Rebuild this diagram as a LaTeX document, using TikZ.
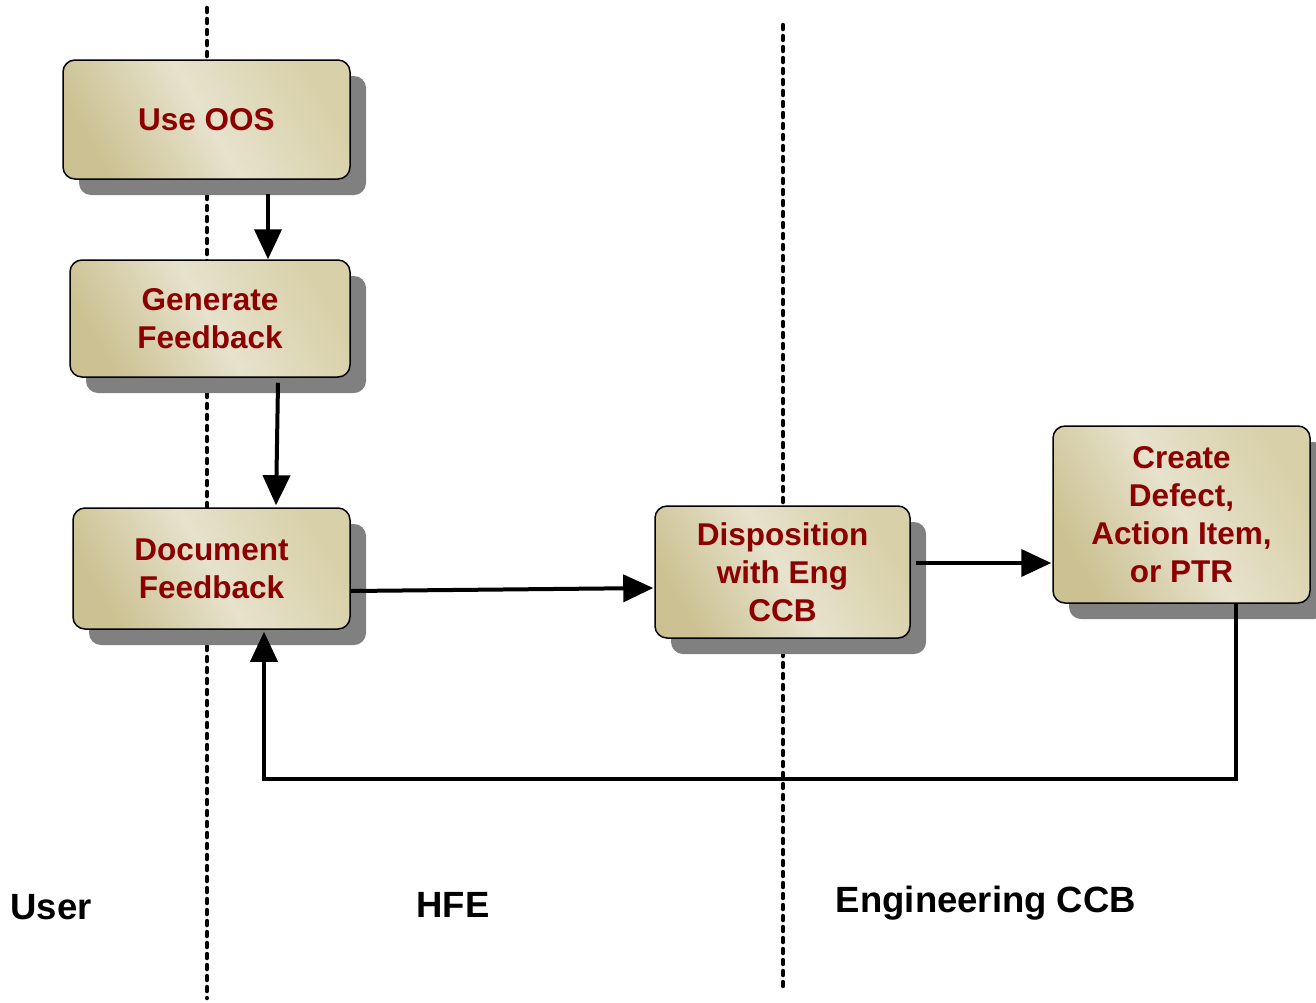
\documentclass[tikz,border=0pt]{standalone}
\usepackage{fontspec}
\setmainfont{Liberation Sans}
\usetikzlibrary{arrows.meta,shadows,calc}
\definecolor{boxred}{HTML}{8C0000}
\definecolor{tanDark}{HTML}{CCC192}
\definecolor{tanMid}{HTML}{E6E2CC}
\definecolor{tanLight}{HTML}{D8D0A8}
\definecolor{shadowgray}{HTML}{808080}
\tikzset{
  procbox/.style={draw=black, line width=1.5pt, rounded corners=12pt,
    left color=tanLight, right color=tanDark, middle color=tanMid, shading angle=-60,
    general shadow={fill=shadowgray, shadow xshift=16pt, shadow yshift=-16pt},
    align=center, text=boxred, font=\bfseries\fontsize{31.5}{38}\selectfont, inner sep=0pt},
  lane/.style={line width=4.5pt, dash pattern=on 4pt off 7pt, line cap=round},
  flow/.style={line width=4pt, -{Triangle[width=27pt,length=30pt]}},
  lanelabel/.style={font=\bfseries\fontsize{36.5}{43}\selectfont, inner sep=0pt}
}
\begin{document}
\begin{tikzpicture}[x=1pt,y=-1pt]
\useasboundingbox (0,0) rectangle (1316,1002);
% swimlane separators
\coordinate (l1t) at (207,8);
\coordinate (l1b) at (207,998);
\coordinate (l2t) at (783,25);
\coordinate (l2b) at (783,992);
\draw[lane] (l1t) -- (l1b);
\draw[lane] (l2t) -- (l2b);
% boxes
\node[procbox, minimum width=287pt, minimum height=119pt] (oos) at (206.5,119.5) {Use OOS};
\node[procbox, minimum width=280pt, minimum height=117pt] (gen) at (210,318.5) {Generate\\Feedback};
\node[procbox, minimum width=277pt, minimum height=121pt] (doc) at (211.5,568.5) {Document\\Feedback};
\node[procbox, minimum width=255pt, minimum height=132pt] (disp) at (782.5,572) {Disposition\\with Eng\\CCB};
\node[procbox, minimum width=257pt, minimum height=177pt] (create) at (1181.5,514.5) {Create\\Defect,\\Action Item,\\or PTR};
% connectors
\draw[flow] ([xshift=61.5pt,yshift=-14pt]oos.south) -- ([xshift=58pt]gen.north);
\draw[flow] ([xshift=68pt,yshift=-5pt]gen.south) -- ([xshift=64.5pt,yshift=2pt]doc.north);
\draw[flow] ([yshift=-22.5pt]doc.east) -- ([yshift=-16pt,xshift=-1pt]disp.west);
\draw[flow] ([xshift=5pt,yshift=9pt]disp.east) -- ([yshift=-48.5pt,xshift=-1pt]create.west);
\draw[flow] ([xshift=54.5pt]create.south) -- ++(0,175) -| ([xshift=52.5pt,yshift=-2pt]doc.south);
% lane labels
\node[lanelabel] (user) at (51,907) {User};
\node[lanelabel] (hfe) at (453,905) {HFE};
\node[lanelabel] (eng) at (986,903) {Engineering CCB};
\end{tikzpicture}
\end{document}
